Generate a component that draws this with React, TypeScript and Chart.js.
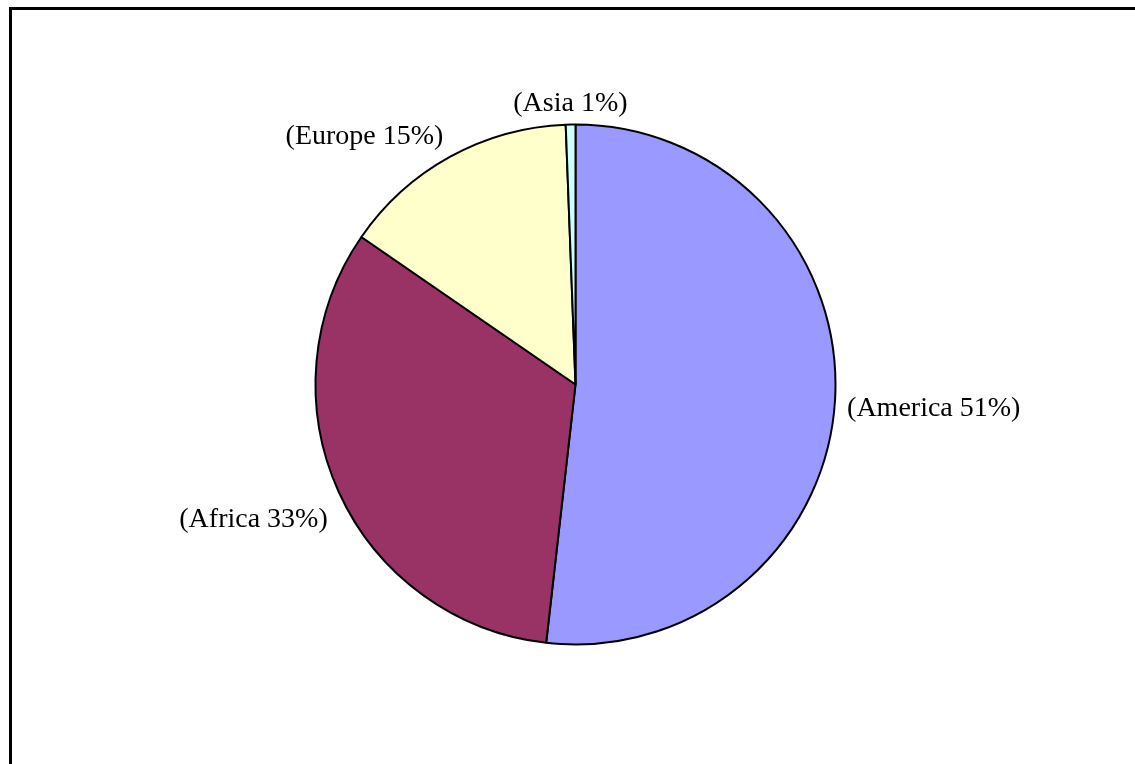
import React, { useEffect, useRef } from "react";
import { Chart, registerables } from "chart.js";

Chart.register(...registerables);

const categories = ["America", "Africa", "Europe", "Asia"];
const values = [51.8, 32.8, 14.8, 0.6];
const percentLabels = ["51%", "33%", "15%", "1%"];
const colors = ["#9999FF", "#993366", "#FFFFCC", "#CCFFFF"];

const outsideLabels = {
  id: "outsideLabels",
  afterDatasetsDraw(chart: any) {
    const ctx = chart.ctx;
    const meta = chart.getDatasetMeta(0);
    ctx.save();
    ctx.font = "28px 'Liberation Serif', 'DejaVu Serif', serif";
    ctx.fillStyle = "#000";
    ctx.textAlign = "center";
    ctx.textBaseline = "middle";
    meta.data.forEach((arc: any, i: number) => {
      const p = arc.getProps(["x", "y", "startAngle", "endAngle", "outerRadius"], true);
      const mid = (p.startAngle + p.endAngle) / 2;
      const dx = Math.cos(mid);
      const dy = Math.sin(mid);
      const R = p.outerRadius + 10;
      const px = p.x + R * dx;
      const py = p.y + R * dy;
      const text = `(${categories[i]} ${percentLabels[i]})`;
      const w = ctx.measureText(text).width;
      const h = 34;
      const cx = Math.abs(dx) < 0.15 ? px : px + Math.sign(dx) * (w / 2 + 2);
      const cy = py + (h / 2) * Math.max(-1, Math.min(1, dy / 0.3)) + 6;
      ctx.fillText(text, cx, cy);
    });
    ctx.restore();
  },
};

export default function App() {
  const ref = useRef<HTMLCanvasElement | null>(null);
  useEffect(() => {
    if (!ref.current) return;
    const chart = new Chart(ref.current, {
      type: "pie",
      data: {
        labels: categories,
        datasets: [
          {
            data: values,
            backgroundColor: colors,
            borderColor: "#000",
            borderWidth: 2,
          },
        ],
      },
      options: {
        responsive: false,
        animation: false,
        radius: 260,
        layout: { padding: { left: 16, top: 5, right: 0, bottom: 0 } },
        plugins: {
          legend: { display: false },
          tooltip: { enabled: false },
          title: { display: false },
        },
      } as any,
      plugins: [outsideLabels],
    });
    return () => chart.destroy();
  }, []);
  return (
    <div
      style={{
        position: "fixed",
        left: 0,
        top: 0,
        width: 1135,
        height: 764,
        overflow: "hidden",
        background: "#fff",
      }}
    >
      <div
        style={{
          position: "absolute",
          left: 9,
          top: 7,
          width: 1200,
          height: 800,
          borderLeft: "3px solid #000",
          borderTop: "3px solid #000",
        }}
      />
      <canvas
        ref={ref}
        width={1135}
        height={764}
        style={{ position: "absolute", left: 0, top: 0, width: 1135, height: 764 }}
      />
    </div>
  );
}
